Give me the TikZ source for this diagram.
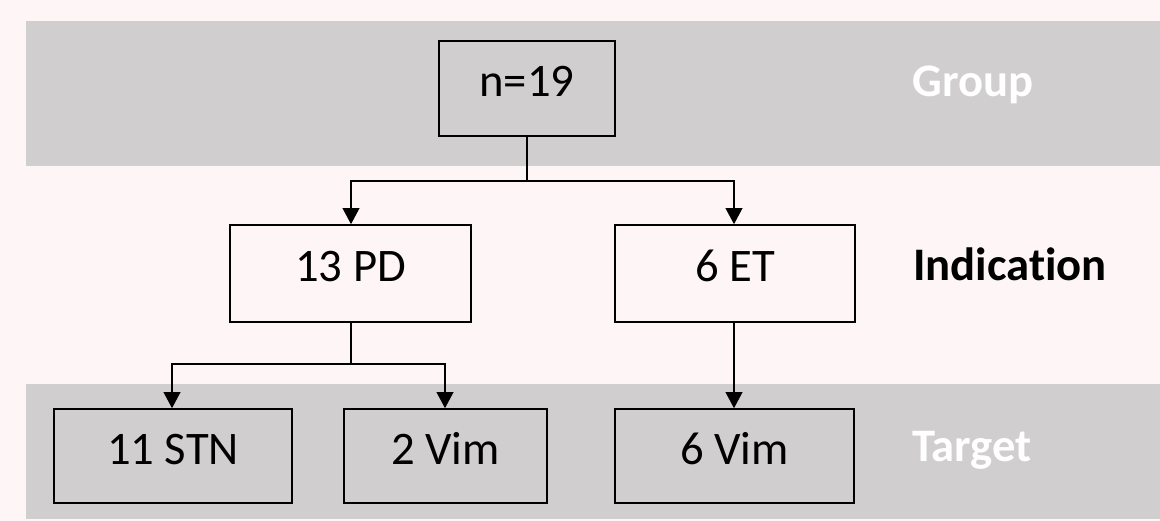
\documentclass[tikz,border=0pt]{standalone}
\usepackage{fontspec}
\setmainfont{Carlito}[Ligatures=NoCommon]
\usepackage{xcolor}
\usetikzlibrary{arrows.meta}
\definecolor{bgpink}{HTML}{FEF5F6}
\definecolor{bandgray}{HTML}{D0CECF}

\tikzset{
  countbox/.style={draw,line width=1.2pt,inner sep=0pt,text height=24pt,text depth=12pt,font=\fontsize{35}{42}\selectfont},
  levellabel/.style={inner sep=0pt,text height=24pt,text depth=12pt,font=\fontsize{35}{42}\selectfont\bfseries},
  arr/.style={line width=1.2pt,-{Triangle[length=12pt,width=12.5pt]}},
  link/.style={line width=1.2pt}
}

\begin{document}
\begin{tikzpicture}[x=0.75pt,y=0.75pt,yscale=-1,xscale=1]
\useasboundingbox (0,0) rectangle (1160,521);

%Background
\fill [bgpink] (0,0) rectangle (1160,521);
%Bands
\fill [bandgray] (26,21) rectangle (1160,166);
\fill [bandgray] (26,384) rectangle (1160,519);

% Boxes
\node (n19) [countbox,minimum width=132pt,minimum height=71.25pt] at (527,88.5) {n=19};
\node (pd) [countbox,minimum width=180.75pt,minimum height=72.75pt] at (350.5,273.5) {13 PD};
\node (et) [countbox,minimum width=180pt,minimum height=72.75pt] at (735,273.5) {6 ET};
\node (stn) [countbox,minimum width=178.5pt,minimum height=70.5pt] at (173,456) {11 STN};
\node (vimpd) [countbox,minimum width=152.25pt,minimum height=70.5pt] at (445.5,456) {2 Vim};
\node (vimet) [countbox,minimum width=179.25pt,minimum height=70.5pt] at (734.5,456) {6 Vim};

% Level labels
\node (group) [levellabel,text=white] at (973,88) {Group};
\node (indication) [levellabel] at (1010,272) {Indication};
\node (target) [levellabel,text=white] at (972,453) {Target};

% Connectors
\coordinate (splittop) at (527,181);
\coordinate (splitpd) at (351,364);
\draw [link] (n19.south) -- (splittop);
\draw [arr] (splittop) -| ([xshift=0.375pt]pd.north);
\draw [arr] (splittop) -| ([xshift=-0.75pt]et.north);
\draw [link] ([xshift=0.375pt]pd.south) -- (splitpd);
\draw [arr] (splitpd) -| ([xshift=-0.75pt]stn.north);
\draw [arr] (splitpd) -| ([xshift=-0.375pt]vimpd.north);
\draw [arr] ([xshift=-0.75pt]et.south) -- ([xshift=-0.375pt]vimet.north);

\end{tikzpicture}
\end{document}
